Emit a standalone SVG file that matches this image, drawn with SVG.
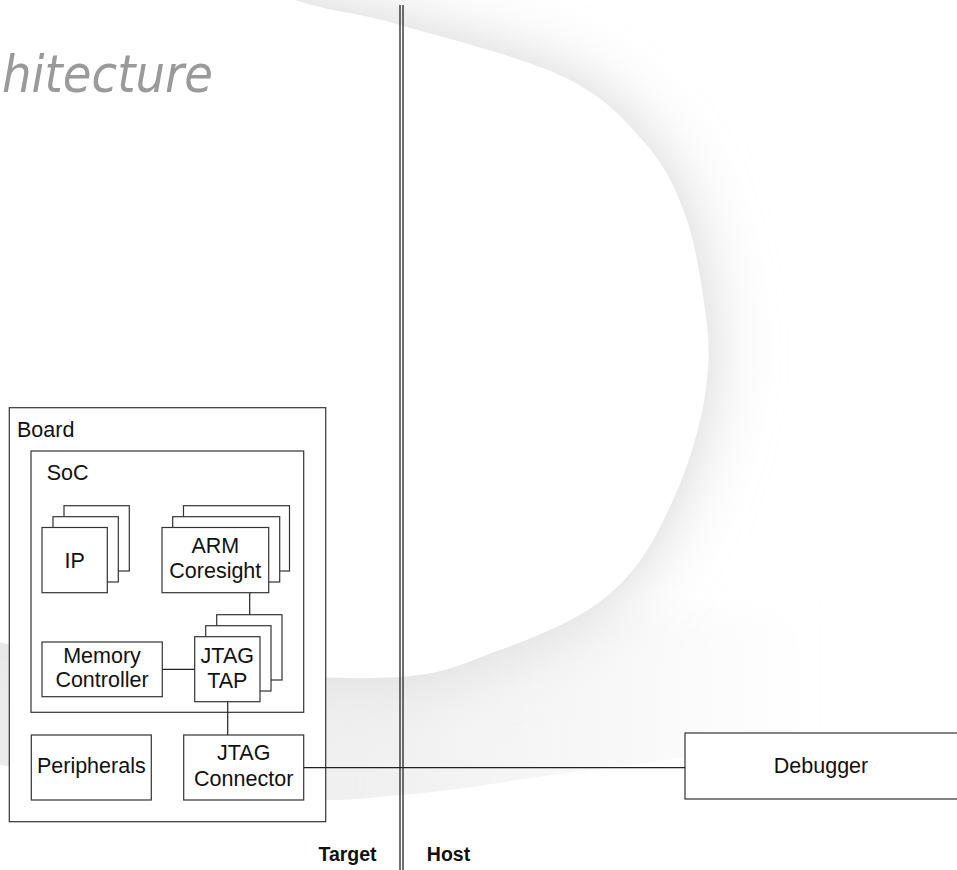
<svg xmlns="http://www.w3.org/2000/svg" width="957" height="870" viewBox="0 0 957 870">
  <defs>
    <style>
      .box { fill: #ffffff; stroke: #333333; stroke-width: 1.2; }
      .lbl { font-family: "Liberation Sans", Arial, Helvetica, sans-serif; font-size: 21.5px; fill: #111111; }
      .mid { text-anchor: middle; }
      .side { font-family: "Liberation Sans", Arial, Helvetica, sans-serif; font-size: 19.5px; font-weight: bold; fill: #111111; text-anchor: middle; }
      .wire { fill: none; stroke: #222222; stroke-width: 1.2; }
      .divider { fill: none; stroke: #222222; stroke-width: 1.3; }
      .title { font-family: "DejaVu Sans", "Liberation Sans", sans-serif; font-style: italic; font-size: 52px; fill: #9a9a9a; }
    </style>

    <!-- the white "D" area enclosed by the background swoosh -->
    <path id="swooshInner" d="M262,-20 L262,-10
      C281.3,-4.3 297,1.2 320,7
      C343,12.8 359.3,13.3 400,25
      C440.7,36.7 523.2,57.3 564,77
      C604.8,96.7 624.7,119.7 645,143
      C665.3,166.3 675.8,188 686,217
      C696.2,246 702.5,289.8 706,317
      C709.5,344.2 709.2,358.3 707,380
      C704.8,401.7 699.7,424.8 693,447
      C686.3,469.2 677,492.5 667,513
      C657,533.5 647,553.3 633,570
      C619,586.7 605.2,599.7 583,613
      C560.8,626.3 530.5,639.3 500,650
      C469.5,660.7 450,673.7 400,677
      C350,680.3 266.7,675.7 200,670
      C133.3,664.3 66.7,652 0,643
      L-20,640 L-20,-20 Z"/>

    <!-- band region: everything above the lower brush edge, minus the D -->
    <clipPath id="bandClip">
      <path clip-rule="evenodd" d="M-10,-10 L960,-10 L960,690
        C860,715 760,745 685,757
        C620,767 570,772 530,778
        C480,786 440,792 400,795
        C370,798 350,800 330,800
        C260,800 200,796 150,790
        C90,783 40,772 -10,763 Z
        M262,-20 L262,-10
        C281.3,-4.3 297,1.2 320,7
        C343,12.8 359.3,13.3 400,25
        C440.7,36.7 523.2,57.3 564,77
        C604.8,96.7 624.7,119.7 645,143
        C665.3,166.3 675.8,188 686,217
        C696.2,246 702.5,289.8 706,317
        C709.5,344.2 709.2,358.3 707,380
        C704.8,401.7 699.7,424.8 693,447
        C686.3,469.2 677,492.5 667,513
        C657,533.5 647,553.3 633,570
        C619,586.7 605.2,599.7 583,613
        C560.8,626.3 530.5,639.3 500,650
        C469.5,660.7 450,673.7 400,677
        C350,680.3 266.7,675.7 200,670
        C133.3,664.3 66.7,652 0,643
        L-20,640 L-20,-20 Z"/>
    </clipPath>

    <filter id="softShadow" filterUnits="userSpaceOnUse" x="-300" y="-300" width="1600" height="1500">
      <feGaussianBlur stdDeviation="34"/>
    </filter>
    <filter id="softBand" filterUnits="userSpaceOnUse" x="-300" y="400" width="1600" height="600">
      <feGaussianBlur stdDeviation="14"/>
    </filter>

    <linearGradient id="lowerBand" gradientUnits="userSpaceOnUse" x1="0" y1="0" x2="820" y2="0">
      <stop offset="0" stop-color="#e4e4e4" stop-opacity="0.75"/>
      <stop offset="0.5" stop-color="#e4e4e4" stop-opacity="0.5"/>
      <stop offset="0.8" stop-color="#e4e4e4" stop-opacity="0.2"/>
      <stop offset="1" stop-color="#e4e4e4" stop-opacity="0"/>
    </linearGradient>
  </defs>

  <rect x="0" y="0" width="957" height="870" fill="#ffffff"/>

  <!-- background swoosh: sharp inner edge, soft outer fade -->
  <g id="swoosh" clip-path="url(#bandClip)">
    <use href="#swooshInner" fill="#d4d4d4" filter="url(#softShadow)"/>
    <rect x="-40" y="610" width="880" height="230" fill="url(#lowerBand)" filter="url(#softBand)"/>
  </g>

  <!-- page heading -->
  <text class="title" x="2" y="92" textLength="211" lengthAdjust="spacingAndGlyphs">hitecture</text>

  <!-- target / host divider -->
  <g id="divider">
    <line class="divider" x1="400" y1="5" x2="400" y2="870"/>
    <line class="divider" x1="403" y1="5" x2="403" y2="870"/>
  </g>

  <g id="board">
    <rect class="box" x="9.3" y="407.7" width="316.4" height="414"/>
    <text class="lbl" x="17" y="437">Board</text>
  </g>

  <g id="soc">
    <rect class="box" x="31" y="451" width="272.7" height="261.3"/>
    <text class="lbl" x="46.7" y="480">SoC</text>
  </g>

  <g id="ip">
    <rect class="box" x="64" y="505.7" width="65.3" height="65.3"/>
    <rect class="box" x="53" y="516.7" width="65.3" height="65.3"/>
    <rect class="box" x="42" y="527.5" width="65.3" height="65.2"/>
    <text class="lbl mid" x="74.7" y="567.5">IP</text>
  </g>

  <g id="arm-coresight">
    <rect class="box" x="183.5" y="505.7" width="106" height="65.3"/>
    <rect class="box" x="172.7" y="516.7" width="107" height="65.3"/>
    <rect class="box" x="162" y="527.5" width="106.7" height="65.2"/>
    <text class="lbl mid" x="215.3" y="552.7">ARM</text>
    <text class="lbl mid" x="215.3" y="578.3">Coresight</text>
  </g>

  <g id="memory-controller">
    <rect class="box" x="42" y="642" width="120.3" height="54.7"/>
    <text class="lbl mid" x="102" y="663.3">Memory</text>
    <text class="lbl mid" x="102" y="687.3">Controller</text>
  </g>

  <g id="jtag-tap">
    <rect class="box" x="216.7" y="614.7" width="65.3" height="65.3"/>
    <rect class="box" x="205.7" y="625.7" width="65.3" height="65.3"/>
    <rect class="box" x="194.7" y="636.7" width="65.3" height="65"/>
    <text class="lbl mid" x="227.3" y="663.3">JTAG</text>
    <text class="lbl mid" x="227.3" y="688.3">TAP</text>
  </g>

  <g id="peripherals">
    <rect class="box" x="31.3" y="735" width="120" height="65"/>
    <text class="lbl mid" x="91.3" y="773.3">Peripherals</text>
  </g>

  <g id="jtag-connector">
    <rect class="box" x="183.7" y="735" width="120" height="65"/>
    <text class="lbl mid" x="243.7" y="760">JTAG</text>
    <text class="lbl mid" x="243.7" y="785.7">Connector</text>
  </g>

  <g id="debugger">
    <rect class="box" x="685" y="733" width="290" height="66"/>
    <text class="lbl mid" x="821" y="773.3">Debugger</text>
  </g>

  <g id="connectors">
    <line class="wire" x1="249.7" y1="592.7" x2="249.7" y2="614.7"/>
    <line class="wire" x1="162.3" y1="669.3" x2="194.7" y2="669.3"/>
    <line class="wire" x1="227.7" y1="701.7" x2="227.7" y2="735"/>
    <line class="wire" x1="303.7" y1="767.7" x2="685" y2="767.7"/>
  </g>

  <g id="sides">
    <text class="side" x="347.5" y="861">Target</text>
    <text class="side" x="448.5" y="861">Host</text>
  </g>
</svg>
